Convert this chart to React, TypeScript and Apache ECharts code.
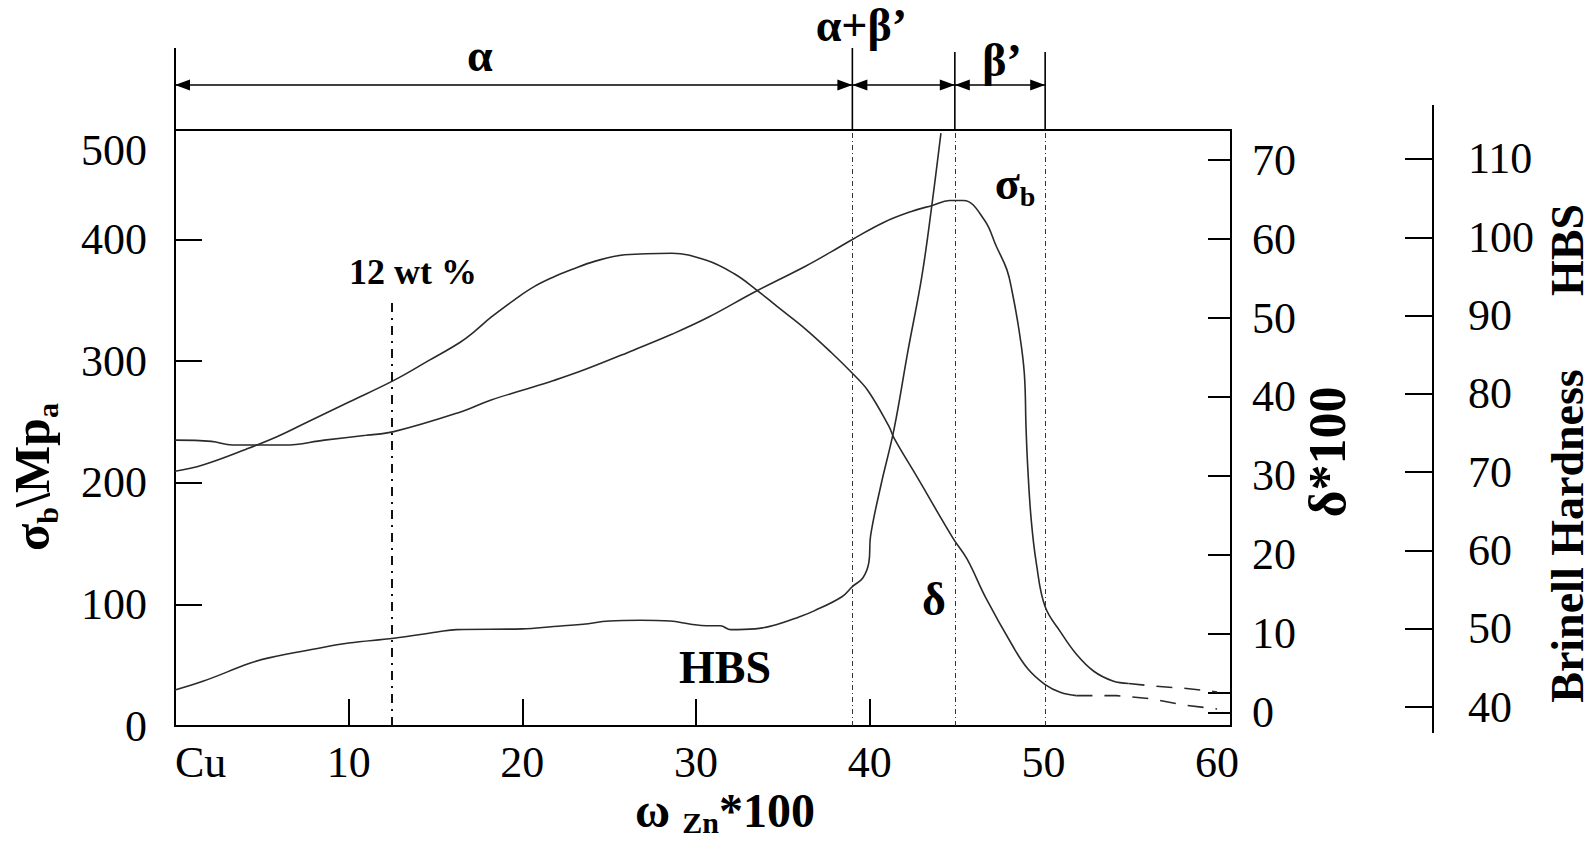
import React, { useEffect, useRef } from 'react';
import * as echarts from 'echarts';

// ---- data (x = ω Zn * 100) ----
const SIGMA_B: [number, number][] = [
  [0, 235], [2.1, 234], [3.3, 231], [6.3, 231], [8.6, 235], [11.0, 239], [12.6, 242],
  [16.4, 258], [18.2, 268], [20, 276], [21.8, 284], [23.6, 293], [26.4, 309], [28.6, 322],
  [30.7, 336], [33.4, 357], [36.3, 378], [37.8, 390], [39.0, 400], [40.8, 414], [42.4, 423],
  [43.6, 428], [44.6, 432], [45.4, 432], [46.6, 416], [47.3, 394], [47.9, 375], [48.2, 357],
  [48.6, 325], [48.9, 290], [49.0, 245], [49.1, 212], [49.3, 169], [49.6, 133], [50.1, 98],
  [51.0, 77], [51.9, 59], [52.9, 45], [54.0, 37], [54.9, 35],
];
const SIGMA_B_TAIL: [number, number][] = [[54.9, 35], [56.2, 33], [58.1, 31], [60, 28]];

const DELTA: [number, number][] = [
  [0, 30.6], [1.6, 31.4], [4.1, 33.4], [5.9, 35], [7.6, 36.8], [10.05, 39.4], [12.6, 42.1],
  [14.6, 44.6], [16.4, 46.9], [17.3, 48.4], [18.2, 50.1], [19.6, 52.4], [20.7, 54.0],
  [21.8, 55.2], [22.8, 56.1], [24.2, 57.2], [25.9, 58.0], [28.6, 58.2], [30.6, 57.3],
  [32.2, 55.6], [33.4, 53.7], [34.7, 51.4], [36.3, 48.6], [37.8, 45.6], [39.0, 43.0],
  [39.9, 40.8], [41.1, 36.3], [41.4, 34.8], [42.8, 29.6], [44.8, 22.1],
  [45.6, 19.5], [46.7, 14.5], [48.2, 8.6], [49.1, 5.6], [50.1, 3.6], [51.0, 2.6], [51.9, 2.2],
];
const DELTA_TAIL: [number, number][] = [[51.9, 2.2], [54.2, 2.2], [56.2, 1.8], [58.1, 1.0], [60, 0.5]];

const HBS: [number, number][] = [
  [0, 42.2], [1.6, 43.3], [4.3, 45.6], [5.4, 46.3], [8.2, 47.5], [10, 48.2], [12.6, 48.8],
  [15.1, 49.6], [16.2, 49.9], [20, 50.0], [21.8, 50.3], [23.5, 50.6], [25, 51.0], [26.8, 51.1],
  [28.5, 51.0], [29.7, 50.6], [30.6, 50.4], [31.4, 50.4], [32, 49.9], [33.4, 50.0], [34.7, 50.6],
  [35.9, 51.5], [36.8, 52.3], [38.4, 54.1], [39, 55.4], [39.6, 56.5], [39.95, 58.5], [40.05, 61.9],
  [40.65, 68.4], [41.4, 75.5], [42.2, 85.5], [43, 95.0], [43.6, 104.5], [44.1, 113.3],
];

const X_TICKS = [10, 20, 30, 40];
const X_LABELS = [0, 10, 20, 30, 40, 50, 60];
const SIGMA_TICKS = [100, 200, 300, 400];
const SIGMA_LABELS = [0, 100, 200, 300, 400];
const DELTA_TICKS = [0, 2.5, 10, 20, 30, 40, 50, 60, 70];
const DELTA_LABELS = [0, 10, 20, 30, 40, 50, 60, 70];
const HBS_TICKS = [40, 50, 60, 70, 80, 90, 100, 110];
const PHASE_BOUNDS = [39, 44.9, 50.1];
const ALLOY_12 = 12.5;
const ALLOY_12_TOP = 348;

const X_MAX = 60.8;
const SIGMA_MAX = 490;
const DELTA_RANGE = [-1.65, 73.8];
const HBS_RANGE = [37.6, 113.7];

const FONT = '"Liberation Serif", "Times New Roman", Times, serif';
const INK = '#000';
const CURVE = '#2a2a2a';

function measure(text: string, size: number, weight: string) {
  const c = document.createElement('canvas').getContext('2d')!;
  c.font = `${weight} ${size}px ${FONT}`;
  return c.measureText(text).width;
}

function textEl(text: string, x: number, y: number, size: number, weight = 'bold', align = 'center', vAlign = 'middle') {
  return {
    type: 'text',
    x,
    y,
    silent: true,
    style: {
      text,
      fill: INK,
      font: `${weight} ${size}px ${FONT}`,
      fontSize: size,
      fontFamily: FONT,
      fontWeight: weight,
      align,
      verticalAlign: vAlign,
      textAlign: align,
      textVerticalAlign: vAlign,
    },
  };
}

function composite(parts: { t: string; sub?: boolean }[], size: number, subSize: number, cx: number, cy: number, rotation = 0, weight = 'bold', subShift = 0.3) {
  const ws = parts.map((p) => measure(p.t, p.sub ? subSize : size, weight));
  const total = ws.reduce((a, b) => a + b, 0);
  let x = -total / 2;
  const children = parts.map((p, i) => {
    const el = textEl(p.t, x, p.sub ? size * subShift : 0, p.sub ? subSize : size, weight, 'left', 'middle');
    x += ws[i];
    return el;
  });
  return { type: 'group', x: cx, y: cy, rotation, children };
}

const labelStyle = { fontSize: 44, fontFamily: FONT, color: INK };
const axisLine = { show: true, onZero: false, lineStyle: { color: INK, width: 2 } };

export default function App() {
  const ref = useRef<HTMLDivElement>(null);

  useEffect(() => {
    const chart = echarts.init(ref.current!, null, { renderer: 'svg' });
    const curveStyle = { color: CURVE, width: 1.6 };
    const dashed = { color: CURVE, width: 1.6, type: [16, 12] as any };

    const phaseLines = PHASE_BOUNDS.map((v) => [
      { coord: [v, 0] },
      { coord: [v, SIGMA_MAX] },
    ]);

    const option: any = {
      animation: false,
      backgroundColor: '#fff',
      grid: { left: 175, top: 130, width: 1056, height: 596, show: true, borderColor: INK, borderWidth: 2 },
      xAxis: {
        type: 'value',
        min: 0,
        max: X_MAX,
        axisLine,
        axisTick: { show: true, inside: true, length: 27, customValues: X_TICKS, lineStyle: { color: INK, width: 2 } },
        axisLabel: {
          ...labelStyle,
          customValues: X_LABELS,
          margin: 14,
          alignMinLabel: 'left',
          formatter: (v: number) => (v === 0 ? 'Cu' : String(v)),
        },
        splitLine: { show: false },
      },
      yAxis: [
        {
          type: 'value',
          min: 0,
          max: SIGMA_MAX,
          position: 'left',
          axisLine,
          axisTick: { show: true, inside: true, length: 27, customValues: SIGMA_TICKS, lineStyle: { color: INK, width: 2 } },
          axisLabel: { ...labelStyle, customValues: SIGMA_LABELS, margin: 28 },
          splitLine: { show: false },
        },
        {
          type: 'value',
          min: DELTA_RANGE[0],
          max: DELTA_RANGE[1],
          position: 'right',
          axisLine,
          axisTick: { show: true, inside: true, length: 23, customValues: DELTA_TICKS, lineStyle: { color: INK, width: 2 } },
          axisLabel: { ...labelStyle, customValues: DELTA_LABELS, margin: 21 },
          splitLine: { show: false },
        },
        {
          type: 'value',
          min: HBS_RANGE[0],
          max: HBS_RANGE[1],
          position: 'right',
          offset: 202,
          axisLine,
          axisTick: { show: true, inside: true, length: 28, customValues: HBS_TICKS, lineStyle: { color: INK, width: 2 } },
          axisLabel: { ...labelStyle, customValues: HBS_TICKS, margin: 35 },
          splitLine: { show: false },
        },
      ],
      series: [
        {
          name: 'σb',
          type: 'line',
          yAxisIndex: 0,
          data: SIGMA_B,
          symbol: 'none',
          smooth: 0.4,
          lineStyle: curveStyle,
          silent: true,
          markLine: {
            silent: true,
            symbol: ['none', 'none'],
            label: { show: false },
            lineStyle: { color: '#333', width: 1, type: [5, 3, 1, 3] },
            data: [
              ...phaseLines,
              [
                { coord: [ALLOY_12, 0], lineStyle: { color: '#111', width: 2, type: [9, 6, 2, 6] } },
                { coord: [ALLOY_12, ALLOY_12_TOP] },
              ],
            ],
          },
        },
        { name: 'σb tail', type: 'line', yAxisIndex: 0, data: SIGMA_B_TAIL, symbol: 'none', lineStyle: dashed, silent: true },
        { name: 'δ', type: 'line', yAxisIndex: 1, data: DELTA, symbol: 'none', smooth: 0.4, lineStyle: curveStyle, silent: true },
        { name: 'δ tail', type: 'line', yAxisIndex: 1, data: DELTA_TAIL, symbol: 'none', lineStyle: dashed, silent: true },
        { name: 'HBS', type: 'line', yAxisIndex: 2, data: HBS, symbol: 'none', smooth: 0.4, lineStyle: curveStyle, silent: true },
      ],
    };
    chart.setOption(option);

    const px = (v: number) => chart.convertToPixel({ xAxisIndex: 0 }, v) as number;
    const yTop = chart.convertToPixel({ yAxisIndex: 0 }, SIGMA_MAX) as number;
    const yBottom = chart.convertToPixel({ yAxisIndex: 0 }, 0) as number;
    const x0 = px(0);
    const [x1, x2, x3] = PHASE_BOUNDS.map(px);
    const xHbs = px(X_MAX) + 202;
    const arrowY = 85;
    const lineSt = { stroke: INK, lineWidth: 1.6 };
    const vline = (x: number, ya: number, yb: number, w = 1.6) => ({
      type: 'line', silent: true, shape: { x1: x, y1: ya, x2: x, y2: yb }, style: { stroke: INK, lineWidth: w },
    });
    const head = (tip: number, dir: number) => ({
      type: 'polygon', silent: true,
      shape: { points: [[tip, arrowY], [tip - dir * 15, arrowY - 5.5], [tip - dir * 15, arrowY + 5.5]] },
      style: { fill: INK },
    });

    const graphics: any[] = [
      vline(x0, 48, yTop, 2),
      vline(x1, 48, yTop),
      vline(x2, 52, yTop),
      vline(x3, 52, yTop),
      { type: 'line', silent: true, shape: { x1: x0, y1: arrowY, x2: x3, y2: arrowY }, style: lineSt },
      head(x0, -1), head(x1, 1), head(x1, -1), head(x2, 1), head(x2, -1), head(x3, 1),
      vline(xHbs, 105, yTop, 2),
      vline(xHbs, yBottom, 733, 2),
      textEl('α', x0 + 0.45 * (x1 - x0), 55, 46),
      textEl('α+β’', x1 + 9, 25, 46),
      textEl('β’', (x2 + x3) / 2 + 2, 60, 46),
      textEl('500', 147, 150, 44, 'normal', 'right', 'middle'),
      textEl('12 wt %', 413, 272, 36),
      textEl('HBS', 725, 667, 46),
      textEl('δ', 934, 599, 46),
      composite([{ t: 'σ' }, { t: 'b', sub: true }], 46, 28, 1015, 183),
      composite([{ t: 'σ' }, { t: 'b', sub: true }, { t: '\\M' }, { t: 'p' }, { t: 'a', sub: true }], 50, 30, 32, 477, Math.PI / 2),
      composite([{ t: 'δ*100' }], 52, 30, 1327, 452, Math.PI / 2),
      composite([{ t: 'ω ' }, { t: 'Zn', sub: true }, { t: '*100' }], 48, 30, 725, 810, 0, 'bold', 0.26),
      composite([{ t: 'HBS' }], 46, 28, 1567, 250, Math.PI / 2),
      composite([{ t: 'Brinell Hardness' }], 46, 28, 1567, 536, Math.PI / 2),
    ];
    chart.setOption({ graphic: graphics });

    return () => chart.dispose();
  }, []);

  return (
    <div
      ref={ref}
      style={{ position: 'fixed', left: 0, top: 0, width: 1592, height: 849, background: '#fff' }}
    />
  );
}
